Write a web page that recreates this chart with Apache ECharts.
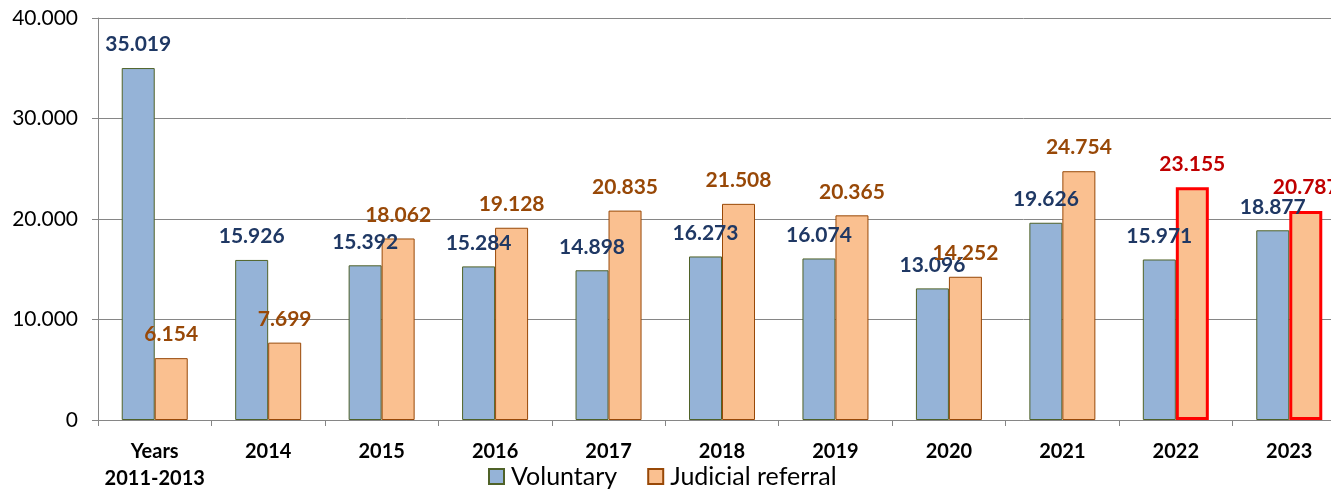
<!DOCTYPE html>
<html>
<head>
<meta charset="utf-8">
<script src="https://cdn.jsdelivr.net/npm/echarts@6/dist/echarts.min.js"></script>
<style>
html,body{margin:0;padding:0;background:#fff;}
#chart{width:1331px;height:490px;}
</style>
</head>
<body>
<div id="chart"></div>
<script>
const categories = ['Years\n2011-2013', '2014', '2015', '2016', '2017', '2018', '2019', '2020', '2021', '2022', '2023'];
const voluntary = [35019, 15926, 15392, 15284, 14898, 16273, 16074, 13096, 19626, 15971, 18877];
const judicial = [6154, 7699, 18062, 19128, 20835, 21508, 20365, 14252, 24754, 23155, 20787];
const highlighted = ['2022', '2023'];
const yTicks = [0, 10000, 20000, 30000, 40000];

const FONT = 'Lato';
function fmt(v) {
  return String(v).replace(/\B(?=(\d{3})+(?!\d))/g, '.');
}

const judicialData = judicial.map((v, i) => {
  if (highlighted.includes(categories[i])) {
    return {
      value: v,
      itemStyle: { borderColor: '#ff0000', borderWidth: 3 },
      label: { color: '#c00000' }
    };
  }
  return v;
});

const chart = echarts.init(document.getElementById('chart'), null, { renderer: 'canvas' });
chart.setOption({
  animation: false,
  backgroundColor: '#ffffff',
  textStyle: { fontFamily: FONT },
  grid: { left: 98, top: 18, bottom: 70, width: 1248, containLabel: false, outerBoundsMode: 'none' },
  legend: {
    left: 483,
    top: 459,
    icon: 'rect',
    itemWidth: 15,
    itemHeight: 15,
    itemGap: 30,
    textStyle: { fontFamily: FONT, fontSize: 25, color: '#000', padding: [0, 0, 0, 2] },
    data: ['Voluntary', 'Judicial referral']
  },
  xAxis: {
    type: 'category',
    data: categories,
    boundaryGap: true,
    axisLine: { lineStyle: { color: '#868686', width: 1 } },
    axisTick: { show: true, interval: 0, length: 6, lineStyle: { color: '#868686' } },
    axisLabel: {
      interval: 0,
      margin: 18,
      fontFamily: FONT,
      fontWeight: 'bold',
      fontSize: 20,
      lineHeight: 27,
      color: '#000'
    }
  },
  yAxis: {
    type: 'value',
    min: yTicks[0],
    max: yTicks[yTicks.length - 1],
    interval: 10000,
    axisLine: { show: true, lineStyle: { color: '#868686', width: 1 } },
    axisTick: { show: true, length: 6, lineStyle: { color: '#868686' } },
    splitLine: { show: true, lineStyle: { color: '#868686', width: 1 } },
    axisLabel: {
      margin: 20,
      fontFamily: FONT,
      fontSize: 21,
      color: '#000',
      formatter: v => fmt(v)
    }
  },
  series: [
    {
      name: 'Voluntary',
      type: 'bar',
      data: voluntary,
      barWidth: 33,
      barGap: '0%',
      itemStyle: { color: '#95b3d7', borderColor: '#4f6228', borderWidth: 1 },
      label: {
        show: true,
        position: 'top',
        distance: 13,
        fontFamily: FONT,
        fontWeight: 'bold',
        fontSize: 21,
        color: '#1f3864',
        formatter: p => fmt(p.value)
      }
    },
    {
      name: 'Judicial referral',
      type: 'bar',
      data: judicialData,
      barWidth: 33,
      barGap: '0%',
      itemStyle: { color: '#fac090', borderColor: '#984807', borderWidth: 1 },
      label: {
        show: true,
        position: 'top',
        distance: 13,
        fontFamily: FONT,
        fontWeight: 'bold',
        fontSize: 21,
        color: '#984807',
        formatter: p => fmt(p.value)
      }
    }
  ]
});
</script>
</body>
</html>
